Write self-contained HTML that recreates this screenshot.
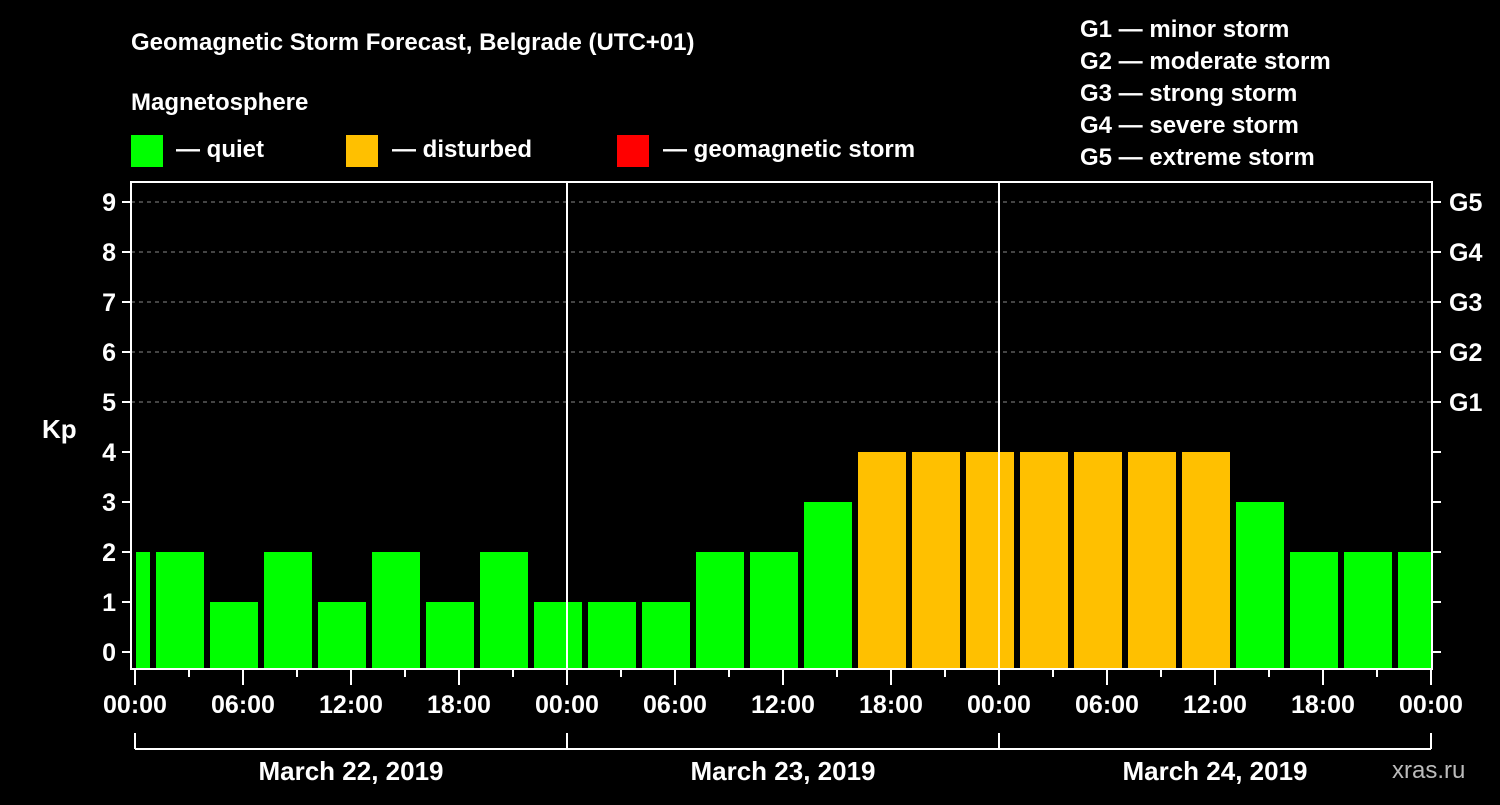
<!DOCTYPE html>
<html><head><meta charset="utf-8"><style>
body{margin:0;background:#000;}
svg text{font-family:"Liberation Sans",sans-serif;font-weight:bold;fill:#fff;}
</style></head><body>
<svg id="c" width="1500" height="800">
<rect width="1500" height="800" fill="#000"/>
<text x="131" y="50" font-size="24">Geomagnetic Storm Forecast, Belgrade (UTC+01)</text>
<text x="131" y="110" font-size="24">Magnetosphere</text>
<g><rect x="131" y="135" width="32" height="32" fill="#00ff00"/><text x="176" y="157" font-size="24">— quiet</text></g>
<g><rect x="346" y="135" width="32" height="32" fill="#ffc000"/><text x="392" y="157" font-size="24">— disturbed</text></g>
<g><rect x="617" y="135" width="32" height="32" fill="#ff0000"/><text x="663" y="157" font-size="24">— geomagnetic storm</text></g>
<g font-size="24">
<text x="1080" y="37">G1 — minor storm</text>
<text x="1080" y="69">G2 — moderate storm</text>
<text x="1080" y="101">G3 — strong storm</text>
<text x="1080" y="133">G4 — severe storm</text>
<text x="1080" y="165">G5 — extreme storm</text>
</g>
<text x="42" y="438" font-size="26">Kp</text>
<text x="1392" y="778" font-size="24" fill="#bbb" style="fill:#bbb;font-weight:normal">xras.ru</text>
<g id="plot"></g>
</svg>
<script>
const values=[2,2,1,2,1,2,1,2,1,1,1,2,2,3,4,4,4,4,4,4,4,3,2,2,2];
const yTicks=[0,1,2,3,4,5,6,7,8,9];
const gLabels=["G1","G2","G3","G4","G5"];
const timeLabels=["00:00","06:00","12:00","18:00"];
const dayLabels=["March 22, 2019","March 23, 2019","March 24, 2019"];
const NS="http://www.w3.org/2000/svg";
const X0=135,DAY=432,L=131,R=1432,T=182,B=669;
const x=h=>X0+h*DAY/24;
const y=v=>652-v*50;
const g=document.getElementById('plot');
function mk(t,a,p){const e=document.createElementNS(NS,t);for(const k in a)e.setAttribute(k,a[k]);(p||g).appendChild(e);return e;}
// grid
for(let v=5;v<=9;v++){const e=mk('line',{x1:L,x2:R,y1:y(v),y2:y(v),stroke:'#888','stroke-dasharray':'4,4','stroke-width':1});

}
// bars
values.forEach((v,i)=>{let s=-2+i*3,e=s+3;let x1=Math.max(x(s)+3,x(0)+1),x2=Math.min(x(e)-3,x(72));
const r=mk('rect',{x:x1,y:y(v),width:x2-x1,height:B-1-y(v),fill:v>=5?'#ff0000':(v>=4?'#ffc000':'#00ff00')});

});
// day separators
[1,2].forEach(d=>{const e=mk('line',{x1:x(d*24),x2:x(d*24),y1:T,y2:B,stroke:'#fff','stroke-width':2});

});
// frame
const f=mk('rect',{x:L,y:T,width:R-L,height:B-T,fill:'none',stroke:'#fff','stroke-width':2});


// y ticks
yTicks.forEach(v=>{mk('line',{x1:122,x2:L,y1:y(v),y2:y(v),stroke:'#fff','stroke-width':2});
mk('line',{x1:R,x2:1441,y1:y(v),y2:y(v),stroke:'#fff','stroke-width':2});
const t=mk('text',{x:116,y:y(v)+9,'text-anchor':'end','font-size':25});t.textContent=v;

});
gLabels.forEach((s,i)=>{const t=mk('text',{x:1449,y:y(5+i)+9,'font-size':25});t.textContent=s;

});
// x ticks
for(let h=0;h<=72;h+=3){const big=h%6===0;mk('line',{x1:x(h),x2:x(h),y1:B,y2:B+(big?16:8),stroke:'#fff','stroke-width':2});
if(big){const t=mk('text',{x:x(h),y:713,'text-anchor':'middle','font-size':25});t.textContent=timeLabels[(h/6)%4];

}}
// day bracket
mk('line',{x1:x(0),x2:x(72),y1:749,y2:749,stroke:'#fff','stroke-width':2});
for(let d=0;d<=3;d++)mk('line',{x1:x(d*24),x2:x(d*24),y1:733,y2:749,stroke:'#fff','stroke-width':2});
dayLabels.forEach((s,i)=>{const t=mk('text',{x:x(i*24+12),y:780,'text-anchor':'middle','font-size':26});t.textContent=s;

});
</script>
</body></html>
